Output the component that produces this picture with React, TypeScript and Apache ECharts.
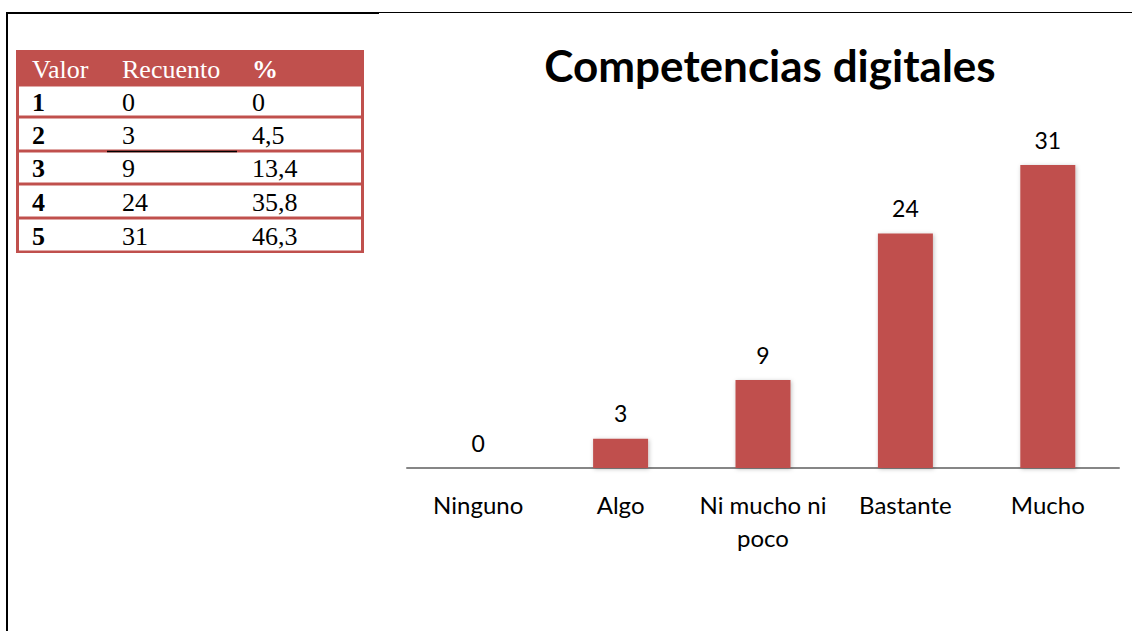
import React, { useEffect, useRef } from "react";
import * as echarts from "echarts";

const categories = ["Ninguno", "Algo", "Ni mucho ni poco", "Bastante", "Mucho"];
const counts = [0, 3, 9, 24, 31];
const tableHeader = ["Valor", "Recuento", "%"];
const tableValor = ["1", "2", "3", "4", "5"];
const tableRecuento = ["0", "3", "9", "24", "31"];
const tablePct = ["0", "4,5", "13,4", "35,8", "46,3"];

const RED = "#C0504D";

export default function App() {
  const ref = useRef<HTMLDivElement>(null);
  useEffect(() => {
    const chart = echarts.init(ref.current!, null, { renderer: "svg" });
    const rowB = [85, 117, 151, 184, 218, 252];
    const colX = [32, 122, 252];
    const serif = "'Liberation Serif', 'Times New Roman', serif";
    const graphics: any[] = [
      { type: "line", shape: { x1: 7, y1: 13, x2: 379, y2: 13 }, style: { stroke: "#000", lineWidth: 2 } },
      { type: "line", shape: { x1: 379, y1: 12.5, x2: 1132, y2: 12.5 }, style: { stroke: "#000", lineWidth: 1 } },
      { type: "line", shape: { x1: 7, y1: 12, x2: 7, y2: 631 }, style: { stroke: "#000", lineWidth: 2 } },
      { type: "rect", shape: { x: 16, y: 50, width: 348, height: 203 }, style: { fill: RED } },
    ];
    for (let i = 0; i < 5; i++) {
      graphics.push({
        type: "rect",
        shape: { x: 19, y: rowB[i] + 1.5, width: 342, height: rowB[i + 1] - rowB[i] - 3 },
        style: { fill: "#fff" },
      });
    }
    graphics.push({ type: "line", shape: { x1: 107, y1: 151.5, x2: 237, y2: 151.5 }, style: { stroke: "#000", lineWidth: 1.5 } });
    tableHeader.forEach((h, j) => {
      graphics.push({
        type: "text",
        x: colX[j],
        y: 69,
        style: {
          text: h,
          fill: "#fff",
          font: `${j === 2 ? "bold " : ""}26px ${serif}`,
          verticalAlign: "middle",
        },
      });
    });
    for (let i = 0; i < 5; i++) {
      const cy = (rowB[i] + rowB[i + 1]) / 2 + 1;
      const vals = [tableValor[i], tableRecuento[i], tablePct[i]];
      vals.forEach((v, j) => {
        graphics.push({
          type: "text",
          x: colX[j],
          y: cy,
          style: {
            text: v,
            fill: "#000",
            font: `${j === 0 ? "bold " : ""}26px ${serif}`,
            verticalAlign: "middle",
          },
        });
      });
    }

    chart.setOption({
      animation: false,
      title: {
        text: "Competencias digitales",
        left: 765,
        top: 38,
        textAlign: "center",
        textStyle: { fontFamily: "Lato", fontWeight: "bold", fontSize: 44, color: "#000" },
      },
      grid: { left: 407, right: 13, top: 126, bottom: 163 },
      xAxis: {
        type: "category",
        data: categories,
        axisLine: { lineStyle: { color: "#868686", width: 2 } },
        axisTick: { show: false },
        axisLabel: {
          fontFamily: "Lato",
          fontSize: 24,
          color: "#000",
          margin: 20,
          lineHeight: 33,
          interval: 0,
          formatter: (v: string) => (v === "Ni mucho ni poco" ? "Ni mucho ni\npoco" : v),
        },
      },
      yAxis: { type: "value", min: 0, max: 35, show: false, splitLine: { show: false } },
      series: [
        {
          type: "bar",
          data: counts,
          barWidth: 55,
          itemStyle: {
            color: RED,
            shadowBlur: 4,
            shadowColor: "rgba(0,0,0,0.25)",
            shadowOffsetX: 1,
            shadowOffsetY: 1,
          },
          label: {
            show: true,
            position: "top",
            distance: 14,
            fontFamily: "Lato",
            fontSize: 23,
            color: "#000",
          },
        },
      ],
      graphic: graphics,
    });
    return () => chart.dispose();
  }, []);
  return (
    <div
      ref={ref}
      style={{ position: "absolute", left: 0, top: 0, width: 1132, height: 631, background: "#fff" }}
    />
  );
}
